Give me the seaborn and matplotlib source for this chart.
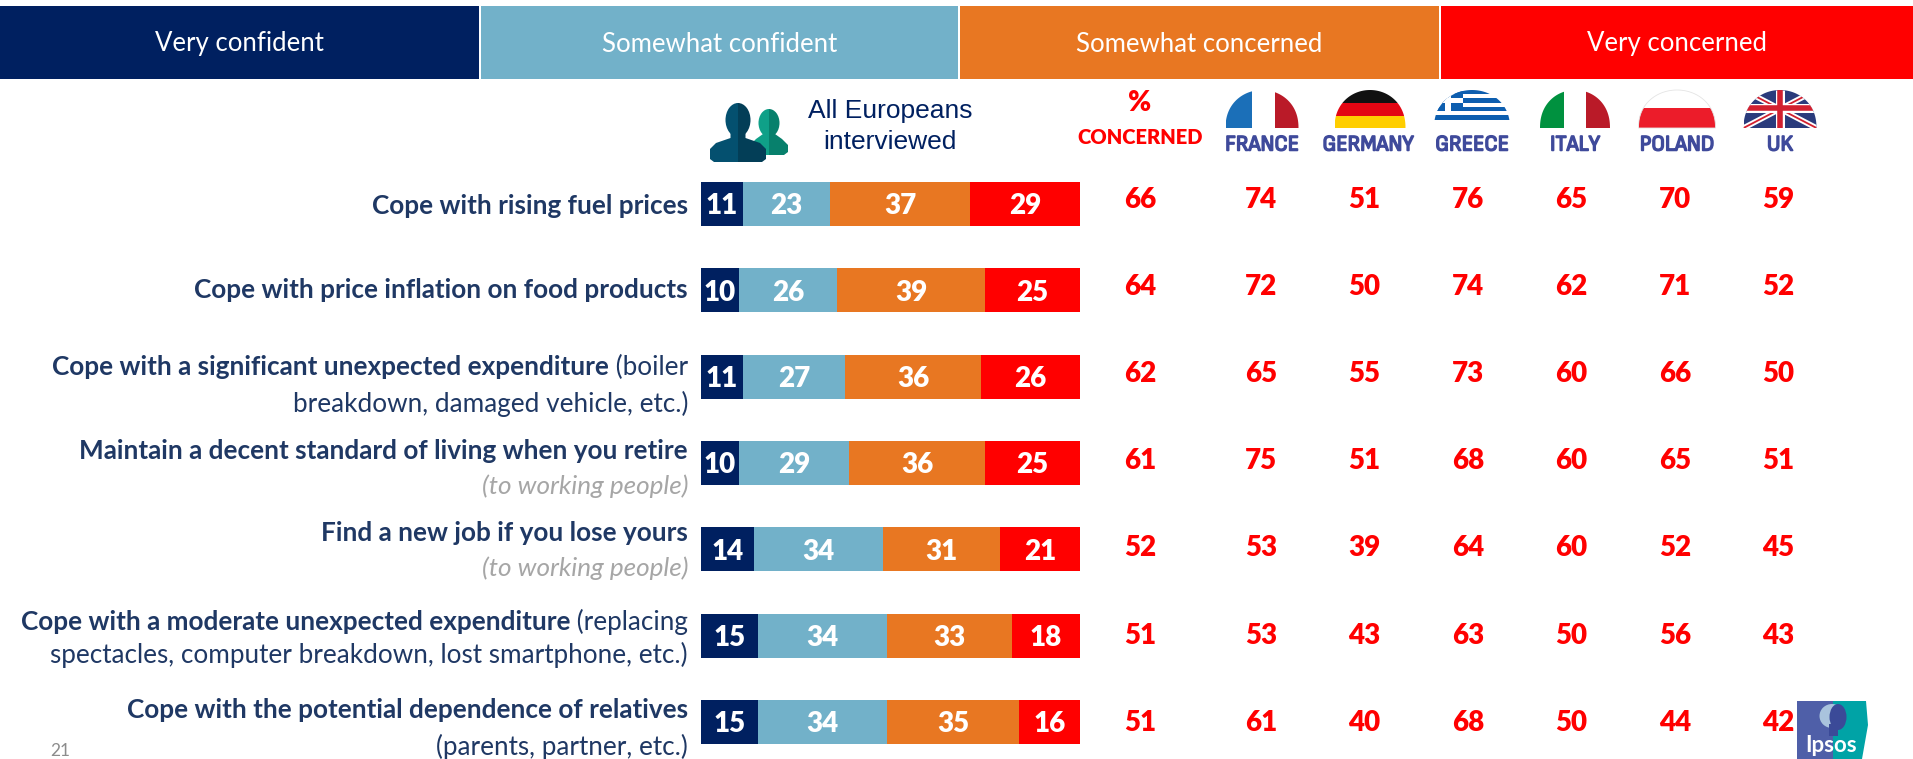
import numpy as np
import matplotlib
matplotlib.use("Agg")
import matplotlib.pyplot as plt
from matplotlib import font_manager
from matplotlib import patheffects
from matplotlib.patches import Rectangle, Ellipse, Polygon
import seaborn as sns

# data
segment_names = ["Very confident", "Somewhat confident", "Somewhat concerned", "Very concerned"]
segment_colors = ["#002060", "#72B1C9", "#E87722", "#FF0000"]
row_ids = ["fuel", "food", "significant", "retire", "job", "moderate", "relatives"]
very_confident = [11, 10, 11, 10, 14, 15, 15]
somewhat_confident = [23, 26, 27, 29, 34, 34, 34]
somewhat_concerned = [37, 39, 36, 36, 31, 33, 35]
very_concerned = [29, 25, 26, 25, 21, 18, 16]

pct_concerned = [66, 64, 62, 61, 52, 51, 51]
france = [74, 72, 65, 75, 53, 53, 61]
germany = [51, 50, 55, 51, 39, 43, 40]
greece = [76, 74, 73, 68, 64, 63, 68]
italy = [65, 62, 60, 60, 60, 50, 50]
poland = [70, 71, 66, 65, 52, 56, 44]
uk = [59, 52, 50, 51, 45, 43, 42]
countries = ["FRANCE", "GERMANY", "GREECE", "ITALY", "POLAND", "UK"]

# (text, style) parts per line, per row
row_labels = [
    [[("Cope with rising fuel prices", "b")]],
    [[("Cope with price inflation on food products", "b")]],
    [[("Cope with a significant unexpected expenditure", "b"), (" (boiler", "r")],
     [("breakdown, damaged vehicle, etc.)", "r")]],
    [[("Maintain a decent standard of living when you retire", "b")],
     [("(to working people)", "i")]],
    [[("Find a new job if you lose yours", "b")],
     [("(to working people)", "i")]],
    [[("Cope with a moderate unexpected expenditure", "b"), (" (replacing", "r")],
     [("spectacles, computer breakdown, lost smartphone, etc.)", "r")]],
    [[("Cope with the potential dependence of relatives", "b")],
     [("(parents, partner, etc.)", "r")]],
]
label_line_y = [[206], [290], [367, 404], [451, 486], [533, 568], [622, 655], [710, 747]]

sns.set_style("white")
plt.rcParams['font.family'] = ['Lato', 'DejaVu Sans']
W, H = 1913, 759
NAVY = "#1F3864"
RED = "#FF0000"
BLUE_TXT = "#3F4A9B"
HEAVY = 800

fig = plt.figure(figsize=(W / 100, H / 100), dpi=100, facecolor="white")
ax = fig.add_axes([0, 0, 1, 1])
ax.set_xlim(0, W)
ax.set_ylim(H, 0)
ax.axis("off")

# header band
header_edges = [(0, 479), (481, 958), (960, 1439), (1441, 1913)]
for name, col, (x0, x1) in zip(segment_names, segment_colors, header_edges):
    ax.add_patch(Rectangle((x0, 6), x1 - x0, 73, color=col, lw=0))
    ax.text((x0 + x1) / 2, 44, name, color="white", fontsize=18.5, ha="center", va="center")

# stacked bars
bar_ax = fig.add_axes([701 / W, 0, (1080 - 701) / W, 1 - 160 / H])
bar_ax.patch.set_alpha(0)
series = [very_confident, somewhat_confident, somewhat_concerned, very_concerned]
left = np.zeros(len(row_ids))
for vals, col in zip(series, segment_colors):
    sns.barplot(x=vals, y=row_ids, left=left, color=col, width=44 / 86.3, saturation=1,
                ax=bar_ax, orient="h", linewidth=0)
    for t in bar_ax.bar_label(bar_ax.containers[-1], labels=[str(v) for v in vals], label_type="center",
                              color="white", fontweight=HEAVY, fontsize=20):
        t.set_va("center_baseline")
    left = left + np.array(vals)
bar_ax.set_xlim(0, 100)
bar_ax.set_ylim((759 - 204) / 86.3, (160 - 204) / 86.3)
bar_ax.axis("off")

# row labels, right aligned, built from the right
RIGHT = 688
LABEL_SIZE = 18.8
styles = {"b": dict(fontweight="bold", color=NAVY),
          "r": dict(color=NAVY),
          "i": dict(fontstyle="italic", color="#A6A6A6")}
renderer = fig.canvas.get_renderer()
for lines, ys in zip(row_labels, label_line_y):
    for parts, y in zip(lines, ys):
        x = RIGHT
        for text, st in reversed(parts):
            t = ax.text(x, y, text, ha="right", va="center", fontsize=LABEL_SIZE, **styles[st])
            x -= t.get_window_extent(renderer).width

# value columns
col_x = [1140, 1261, 1364, 1468, 1571, 1675, 1778]
col_vals = [pct_concerned, france, germany, greece, italy, poland, uk]
for cx, vals in zip(col_x, col_vals):
    for i, v in enumerate(vals):
        ax.text(cx, 197 + i * 87.2, str(v), color=RED, fontsize=20, fontweight=HEAVY,
                ha="center", va="center_baseline")

ax.text(1140, 103, "%", color=RED, fontsize=20, fontweight=HEAVY, ha="center", va="center")
ax.text(1140, 137, "CONCERNED", color=RED, fontsize=14.5, fontweight=HEAVY, ha="center", va="center")

ax.text(890, 111, "All Europeans", color="#002060", fontsize=19, family="Liberation Sans",
        ha="center", va="center")
ax.text(890, 142, "interviewed", color="#002060", fontsize=19, family="Liberation Sans",
        ha="center", va="center")

# people icon
def person(cx, top, head_w, head_h, neck_w, shoulder_y, body_w, bottom, c_light, c_dark):
    for col, clip_x in [(c_light, cx - 60), (c_dark, cx)]:
        clip = Rectangle((clip_x, top - 5), 60, bottom - top + 10, transform=ax.transData)
        neck_y = top + head_h * 0.85
        body = [(cx - neck_w / 2, neck_y), (cx - neck_w / 2, shoulder_y - 5), (cx - body_w / 2 + 6, shoulder_y),
                (cx - body_w / 2, shoulder_y + 6), (cx - body_w / 2, bottom - 3), (cx - body_w / 2 + 4, bottom),
                (cx + body_w / 2 - 4, bottom), (cx + body_w / 2, bottom - 3), (cx + body_w / 2, shoulder_y + 6),
                (cx + body_w / 2 - 6, shoulder_y), (cx + neck_w / 2, shoulder_y - 5), (cx + neck_w / 2, neck_y)]
        for p in [Ellipse((cx, top + head_h / 2), head_w, head_h, color=col, lw=0),
                  Polygon(body, closed=True, color=col, lw=0)]:
            ax.add_patch(p)
            p.set_clip_path(clip)

person(769, 109, 21, 28, 12, 139, 38, 155, "#0FA088", "#07806C")
person(738, 103, 25, 34, 15, 143, 56, 162, "#04506F", "#033E57")

# flags
FLAG_TOP, FLAG_BOT = 90, 128

def flag_dome(cx, w):
    t = np.linspace(0, np.pi, 60)
    xs = cx + w / 2 * np.cos(t)
    ys = FLAG_BOT - (FLAG_BOT - FLAG_TOP) * np.sin(t) ** 0.9
    return Polygon(np.column_stack([xs, ys]), closed=True, transform=ax.transData, fc="none", lw=0)

def clipped(patch, dome):
    ax.add_patch(patch)
    patch.set_clip_path(dome)

def draw_flag(cx, w, rects, lines=()):
    dome = flag_dome(cx, w)
    ax.add_patch(dome)
    x0 = cx - w / 2
    for fx, fy, fw, fh, col in rects:
        clipped(Rectangle((x0 + fx * w, FLAG_TOP + fy * (FLAG_BOT - FLAG_TOP)), fw * w,
                          fh * (FLAG_BOT - FLAG_TOP), color=col, lw=0), dome)
    for xs, ys, col, lw in lines:
        ln, = ax.plot([x0 + v * w for v in xs], [FLAG_TOP + v * (FLAG_BOT - FLAG_TOP) for v in ys],
                      color=col, lw=lw, solid_capstyle="butt")
        ln.set_clip_path(dome)

draw_flag(1262, 73, [(0, 0, .36, 1, "#1B6FB8"), (.68, 0, .32, 1, "#BA1A28")])
draw_flag(1370, 71, [(0, 0, 1, .34, "#111111"), (0, .34, 1, .34, "#E30613"), (0, .68, 1, .32, "#FFCE00")])
gr_blue = "#0D5EAF"
draw_flag(1472, 76, [(0, y, 1, 1 / 9, gr_blue) for y in [0, 2 / 9, 4 / 9, 6 / 9]]
          + [(0, 0, .38, 5 / 9, gr_blue), (.15, 0, .08, 5 / 9, "white"), (0, 2 / 9, .38, 1 / 9, "white")])
draw_flag(1575, 70, [(0, 0, .34, 1, "#00913F"), (.66, 0, .34, 1, "#BA1A28")])
draw_flag(1677, 77, [(0, .48, 1, .52, "#EC1C2A")])
ax.add_patch(Polygon(flag_dome(1677, 77).get_xy(), closed=True, fc="none", ec="#E4E4E4", lw=0.6, zorder=1))
draw_flag(1780, 73, [(0, 0, 1, 1, "#2A3B7C")],
          lines=[([0, 1], [0, 1], "white", 4), ([0, 1], [1, 0], "white", 4),
                 ([0, 1], [0, 1], "#D2202F", 1.3), ([0, 1], [1, 0], "#D2202F", 1.3),
                 ([.5, .5], [0, 1], "white", 6.5), ([0, 1], [.47, .47], "white", 6.5),
                 ([.5, .5], [0, 1], "#D2202F", 4), ([0, 1], [.47, .47], "#D2202F", 4)])

# narrowest family on the machine for the country names, thickened with a stroke
names = font_manager.get_font_names()
narrow = [n for n in names if "narrow" in n.lower() or "condensed" in n.lower()]
country_font = narrow[0] if narrow else "Lato"
country_size = 16 if narrow else 12.8

country_x = [1262, 1368, 1472, 1575, 1677, 1780]
for cx, name in zip(country_x, countries):
    t = ax.text(cx, 145, name, color=BLUE_TXT, fontsize=country_size, fontweight=HEAVY,
                family=country_font, ha="center", va="center")
    t.set_path_effects([patheffects.withStroke(linewidth=1.1, foreground=BLUE_TXT)])

# page number
ax.text(60, 751, "21", color="#8C8C8C", fontsize=12.5, ha="center", va="center")

# logo
logo = Polygon([(1797, 701), (1866, 701), (1868, 725), (1862, 759), (1797, 759)], closed=True,
               transform=ax.transData, fc="none", lw=0)
ax.add_patch(logo)
clipped(Rectangle((1797, 701), 36, 58, color="#4F5FA8", lw=0), logo)
clipped(Rectangle((1833, 701), 36, 58, color="#00A3A6", lw=0), logo)
ax.add_patch(Ellipse((1832, 716), 25, 24, color="#A9C3DD", lw=0))
ax.add_patch(Ellipse((1838, 717), 17, 26, color="#3B4A98", lw=0))
ax.add_patch(Rectangle((1829, 724), 9, 12, color="#3B4A98", lw=0))
ax.text(1831, 746, "Ipsos", color="white", fontsize=16, fontweight="bold", ha="center", va="center")

fig.savefig("out.png", dpi=100, facecolor="white")
